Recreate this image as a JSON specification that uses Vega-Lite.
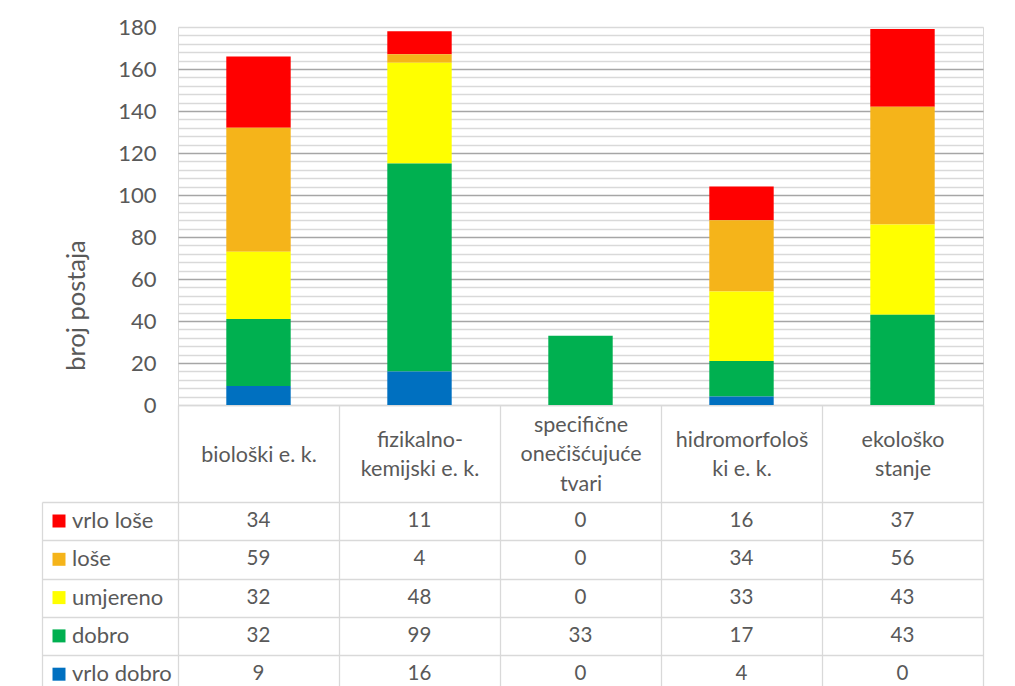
{
  "$schema": "https://vega.github.io/schema/vega-lite/v6.json",
  "background": "white",
  "padding": {"left": 40, "top": 15, "right": 10, "bottom": 0},
  "spacing": 97,
  "bounds": "flush",
  "config": {
    "font": "Lato",
    "view": {"stroke": "#d9d9d9", "strokeWidth": 1},
    "axis": {"labelColor": "#595959", "titleColor": "#595959", "labelFont": "Lato", "titleFont": "Lato"}
  },
  "datasets": {
    "t": [
      {"cat": "biološki e. k.", "series": "vrlo loše", "value": 34, "r": 5},
      {"cat": "biološki e. k.", "series": "loše", "value": 59, "r": 4},
      {"cat": "biološki e. k.", "series": "umjereno", "value": 32, "r": 3},
      {"cat": "biološki e. k.", "series": "dobro", "value": 32, "r": 2},
      {"cat": "biološki e. k.", "series": "vrlo dobro", "value": 9, "r": 1},
      {"cat": "fizikalno-kemijski e. k.", "series": "vrlo loše", "value": 11, "r": 5},
      {"cat": "fizikalno-kemijski e. k.", "series": "loše", "value": 4, "r": 4},
      {"cat": "fizikalno-kemijski e. k.", "series": "umjereno", "value": 48, "r": 3},
      {"cat": "fizikalno-kemijski e. k.", "series": "dobro", "value": 99, "r": 2},
      {"cat": "fizikalno-kemijski e. k.", "series": "vrlo dobro", "value": 16, "r": 1},
      {"cat": "specifične onečišćujuće tvari", "series": "vrlo loše", "value": 0, "r": 5},
      {"cat": "specifične onečišćujuće tvari", "series": "loše", "value": 0, "r": 4},
      {"cat": "specifične onečišćujuće tvari", "series": "umjereno", "value": 0, "r": 3},
      {"cat": "specifične onečišćujuće tvari", "series": "dobro", "value": 33, "r": 2},
      {"cat": "specifične onečišćujuće tvari", "series": "vrlo dobro", "value": 0, "r": 1},
      {"cat": "hidromorfološki e. k.", "series": "vrlo loše", "value": 16, "r": 5},
      {"cat": "hidromorfološki e. k.", "series": "loše", "value": 34, "r": 4},
      {"cat": "hidromorfološki e. k.", "series": "umjereno", "value": 33, "r": 3},
      {"cat": "hidromorfološki e. k.", "series": "dobro", "value": 17, "r": 2},
      {"cat": "hidromorfološki e. k.", "series": "vrlo dobro", "value": 4, "r": 1},
      {"cat": "ekološko stanje", "series": "vrlo loše", "value": 37, "r": 5},
      {"cat": "ekološko stanje", "series": "loše", "value": 56, "r": 4},
      {"cat": "ekološko stanje", "series": "umjereno", "value": 43, "r": 3},
      {"cat": "ekološko stanje", "series": "dobro", "value": 43, "r": 2},
      {"cat": "ekološko stanje", "series": "vrlo dobro", "value": 0, "r": 1}
    ]
  },
  "resolve": {"scale": {"x": "independent", "y": "independent"}},
  "vconcat": [
    {
      "width": 805,
      "height": 378,
      "data": {"name": "t"},
      "mark": {"type": "bar", "width": {"band": 0.4}},
      "encoding": {
        "x": {
          "field": "cat", "type": "nominal",
          "sort": ["biološki e. k.", "fizikalno-kemijski e. k.", "specifične onečišćujuće tvari", "hidromorfološki e. k.", "ekološko stanje"],
          "scale": {"paddingInner": 0, "paddingOuter": 0},
          "axis": {
            "title": null, "labelAngle": 0, "tickBand": "extent", "ticks": true, "tickSize": 97,
            "tickColor": "#d9d9d9", "tickWidth": 1.3, "domain": true, "domainColor": "#d9d9d9", "domainWidth": 1.3,
            "labelPadding": {"condition": [{"test": "datum.value == 'biološki e. k.'", "value": -47}, {"test": "datum.value == 'specifične onečišćujuće tvari'", "value": -77}], "value": -62},
            "labelBaseline": "middle", "labelFontSize": 21.5, "labelLineHeight": 29.5, "labelLimit": 300,
            "labelExpr": "datum.value == 'fizikalno-kemijski e. k.' ? ['fizikalno-', 'kemijski e. k.'] : datum.value == 'specifične onečišćujuće tvari' ? ['specifične', 'onečišćujuće', 'tvari'] : datum.value == 'hidromorfološki e. k.' ? ['hidromorfološ', 'ki e. k.'] : datum.value == 'ekološko stanje' ? ['ekološko', 'stanje'] : datum.label"
          }
        },
        "y": {
          "field": "value", "type": "quantitative",
          "scale": {"domain": [0, 180], "nice": false},
          "axis": {
            "title": "broj postaja", "titleFontSize": 25.5, "titleFontWeight": "normal", "titleX": -89, "titleY": 278,
            "values": [0, 4, 8, 12, 16, 20, 24, 28, 32, 36, 40, 44, 48, 52, 56, 60, 64, 68, 72, 76, 80, 84, 88, 92, 96, 100, 104, 108, 112, 116, 120, 124, 128, 132, 136, 140, 144, 148, 152, 156, 160, 164, 168, 172, 176, 180],
            "ticks": false, "domain": false, "labelOverlap": false, "labelPadding": 22, "labelFontSize": 22,
            "labelExpr": "datum.value % 20 == 0 ? datum.label : ''",
            "grid": true, "gridWidth": 1.3,
            "gridColor": {"condition": {"test": "datum.value % 20 == 0 && datum.value > 0 && datum.value < 180", "value": "#a6a6a6"}, "value": "#d9d9d9"}
          }
        },
        "color": {
          "field": "series", "type": "nominal",
          "scale": {"domain": ["vrlo loše", "loše", "umjereno", "dobro", "vrlo dobro"], "range": ["#FF0000", "#F5B41A", "#FFFF00", "#00B050", "#0070C0"]},
          "legend": {
            "orient": "none", "legendX": -130, "legendY": 483, "title": null, "padding": 0,
            "symbolType": "square", "symbolSize": 169, "symbolStrokeWidth": 0,
            "labelFontSize": 22, "labelColor": "#595959", "labelFont": "Lato", "labelOffset": 2, "rowPadding": 16.3, "direction": "vertical"
          }
        },
        "order": {"field": "r", "type": "quantitative"}
      }
    },
    {
      "width": 805,
      "height": 191.5,
      "data": {"name": "t"},
      "mark": {"type": "text", "fontSize": 20.5, "color": "#595959", "font": "Lato"},
      "encoding": {
        "x": {
          "field": "cat", "type": "nominal",
          "sort": ["biološki e. k.", "fizikalno-kemijski e. k.", "specifične onečišćujuće tvari", "hidromorfološki e. k.", "ekološko stanje"],
          "scale": {"type": "band", "paddingInner": 0, "paddingOuter": 0},
          "axis": {"title": null, "orient": "top", "labels": false, "ticks": false, "domain": false, "grid": true, "tickBand": "extent", "gridColor": "#d9d9d9", "gridWidth": 1.3}
        },
        "y": {
          "field": "series", "type": "nominal",
          "sort": ["vrlo loše", "loše", "umjereno", "dobro", "vrlo dobro"],
          "scale": {"type": "band", "paddingInner": 0, "paddingOuter": 0},
          "axis": {"title": null, "labels": false, "ticks": true, "tickSize": -136, "offset": 136, "tickColor": "#d9d9d9", "tickWidth": 1.3, "domain": true, "domainColor": "#d9d9d9", "domainWidth": 1.3, "grid": true, "gridColor": "#d9d9d9", "gridWidth": 1.3, "tickBand": "extent"}
        },
        "text": {"field": "value", "type": "quantitative"}
      }
    }
  ]
}
